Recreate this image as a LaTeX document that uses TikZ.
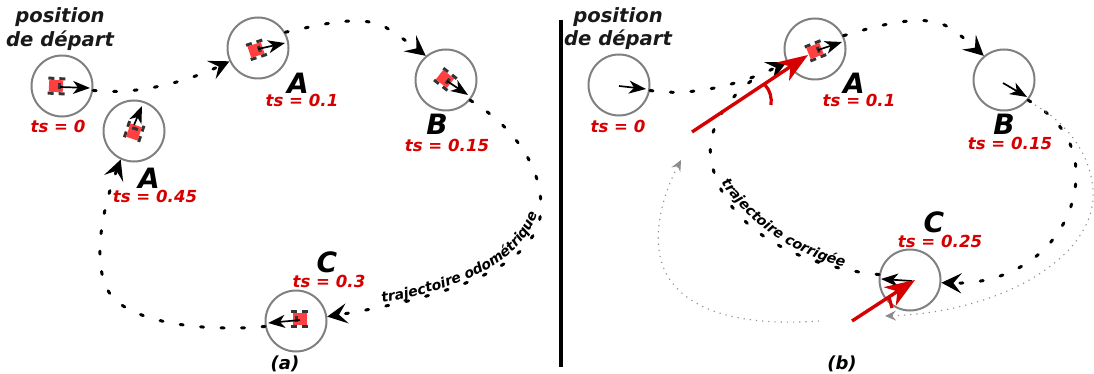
\documentclass[tikz,border=0pt]{standalone}
\usepackage{fontspec}
\setmainfont{DejaVu Sans}
\usetikzlibrary{arrows.meta,decorations.text}
\definecolor{redc}{RGB}{214,0,0}
\tikzset{
  x=1pt,y=-1pt,
  every node/.style={font=\bfseries\itshape},
  ring/.style={circle,draw=black!50,line width=2pt,minimum size=61pt,inner sep=0pt},
  titletext/.style={font=\fontsize{19.6}{22}\selectfont\bfseries\itshape,text=black!90,inner sep=0pt},
  letter/.style={font=\fontsize{28}{30}\selectfont\bfseries\itshape,inner sep=0pt},
  stamp/.style={font=\fontsize{16.6}{19}\selectfont\bfseries\itshape,text=redc,inner sep=0pt},
  figcap/.style={font=\fontsize{18}{20}\selectfont\bfseries\itshape,inner sep=0pt},
  dotline/.style={line width=3pt,line cap=round,dash pattern=on 3pt off 17.5pt,-{Stealth[length=20pt,width=20pt,inset=8pt,line cap=butt]}},
  greyline/.style={line width=1.1pt,black!45,dash pattern=on 1.2pt off 5pt,-{Stealth[length=11pt,width=10pt,inset=4pt]}},
  headbig/.style={line width=1.7pt,-{Stealth[length=17pt,width=13pt,inset=5pt]}},
  redarrow/.style={line width=3.4pt,redc,-{Stealth[length=30pt,width=22pt,inset=9pt]}},
  redarc/.style={line width=3.2pt,redc},
  curvetext/.style={decorate,decoration={text along path,raise=2pt,text align=center,
     text={|\fontsize{14}{16}\selectfont\bfseries\itshape|#1}}},
  robot/.pic={
    \fill[black!80] (-8,-9) rectangle (-2,-6);
    \fill[black!80] (3,-9) rectangle (9,-6);
    \fill[black!80] (-8,6) rectangle (-2,9);
    \fill[black!80] (3,6) rectangle (9,9);
    \fill[red!75!white] (-7,-6) rectangle (7,6);
    \fill[black!80] (2,-3) rectangle (5,3);
  }
}
\begin{document}
\begin{tikzpicture}
\useasboundingbox (0,0) rectangle (1094,374);

% ---------- panel (a)
\node[ring] (s1) at (62,86) {};
\node[ring] (d1) at (134,131) {};
\node[ring] (a1) at (258,48) {};
\node[ring] (b1) at (446,80) {};
\node[ring] (c1) at (296,321) {};
\pic[rotate=-3] at (56,86) {robot};
\pic[rotate=72] at (134,132) {robot};
\pic[rotate=18] at (256,50) {robot};
\pic[rotate=-38] at (445,79) {robot};
\pic[rotate=180] at (300,319) {robot};
\coordinate (s1h) at (60,87); \coordinate (s1t) at (90,88);
\coordinate (d1h) at (134,125); \coordinate (d1t) at (142,106);
\coordinate (a1h) at (258,49); \coordinate (a1t) at (285,43);
\coordinate (b1h) at (447,81); \coordinate (b1t) at (468,95);
\coordinate (c1h) at (300,320); \coordinate (c1t) at (268,323);
\draw[headbig] (s1h) -- (s1t);
\draw[headbig] (d1h) -- (d1t);
\draw[headbig] (a1h) -- (a1t);
\draw[headbig] (b1h) -- (b1t);
\draw[headbig] (c1h) -- (c1t);

\draw[dotline] (s1.-8) .. controls (130,95) and (180,85) .. (a1.205);
\draw[dotline] (a1.30) .. controls (320,25) and (365,12) .. (390,30) .. controls (402,38) and (412,45) .. (b1.130);
\draw[dotline] (b1.-40) .. controls (500,118) and (540,155) .. (541,205) .. controls (543,255) and (480,292) .. (c1.8);
\draw[dotline] (c1.190) .. controls (230,330) and (150,330) .. (115,300) .. controls (90,275) and (100,215) .. (d1.245);

\path[curvetext={trajectoire  odométrique}] (376,306) .. controls (450,293) and (525,270) .. (541,208);

\node[titletext] (p1a) at (60,17) {position};
\node[titletext] (p1b) at (60,41) {de départ};
\node[stamp] (t1) at (58,126) {ts = 0};
\node[letter] (l1) at (149,178) {A};
\node[stamp] (t2) at (155,196) {ts = 0.45};
\node[letter] (l2) at (298,83) {A};
\node[stamp] (t3) at (302,100) {ts = 0.1};
\node[letter] (l3) at (437,124) {B};
\node[stamp] (t4) at (447,145) {ts = 0.15};
\node[letter] (l4) at (327,262) {C};
\node[stamp] (t5) at (329,281) {ts = 0.3};
\node[figcap] (ca) at (285,364) {(a)};

% ---------- separator
\coordinate (v1) at (561,20); \coordinate (v2) at (561,367);
\draw[line width=4pt] (v1) -- (v2);

% ---------- panel (b)
\node[ring] (s2) at (619,85) {};
\node[ring] (a2) at (815,49) {};
\node[ring] (b2) at (1004,80) {};
\node[ring] (c2) at (910,280) {};
\pic[rotate=22] at (815,51) {robot};
\coordinate (s2h) at (619,86); \coordinate (s2t) at (646,89);
\coordinate (a2h) at (818,50); \coordinate (a2t) at (842,42);
\coordinate (b2h) at (1003,83); \coordinate (b2t) at (1027,97);
\coordinate (c2h) at (912,281); \coordinate (c2t) at (881,279);
\draw[headbig] (s2h) -- (s2t);
\draw[headbig] (a2h) -- (a2t);
\draw[headbig] (b2h) -- (b2t);
\draw[headbig] (c2h) -- (c2t);

\draw[dotline] (s2.-10) .. controls (690,97) and (740,85) .. (a2.205);
\draw[dotline] (a2.25) .. controls (880,25) and (925,12) .. (950,28) .. controls (962,36) and (972,45) .. (b2.130);
\draw[dotline] (b2.-40) .. controls (1060,118) and (1078,145) .. (1076,180) .. controls (1072,240) and (1020,285) .. (c2.-5);
\draw[line width=3pt,line cap=round,dash pattern=on 3pt off 17.5pt] (c2.170) .. controls (810,268) and (725,235) .. (711,160) .. controls (705,125) and (735,88) .. (765,72);

\path[curvetext={trajectoire corrigée}] (717,180) .. controls (745,225) and (795,258) .. (848,270);

\coordinate (g1) at (1035,105); \coordinate (g2) at (885,316); \coordinate (g3) at (819,321); \coordinate (g4) at (681,160);
\draw[greyline] (g1) .. controls (1070,125) and (1095,160) .. (1093,200) .. controls (1088,260) and (1000,312) .. (g2);
\draw[greyline] (g3) .. controls (750,326) and (690,315) .. (667,275) .. controls (650,245) and (660,200) .. (g4);

\coordinate (r1) at (692,132); \coordinate (r2) at (808,55);
\coordinate (r3) at (852,321); \coordinate (r4) at (915,280);
\draw[redarrow] (r1) -- (r2);
\draw[redarrow] (r3) -- (r4);
\coordinate (ra) at (771,105); \coordinate (rb) at (765,85);
\draw[redarc] (ra) .. controls (772,98) and (770,90) .. (rb);
\coordinate (rc) at (892,308); \coordinate (rd) at (889,297);
\draw[redarc] (rc) -- (rd);

\node[titletext] (p2a) at (618,17) {position};
\node[titletext] (p2b) at (618,40) {de départ};
\node[stamp] (t6) at (618,126) {ts = 0};
\node[letter] (l5) at (854,83) {A};
\node[stamp] (t7) at (859,100) {ts = 0.1};
\node[letter] (l6) at (1004,124) {B};
\node[stamp] (t8) at (1010,143) {ts = 0.15};
\node[letter] (l7) at (934,222) {C};
\node[stamp] (t9) at (940,241) {ts = 0.25};
\node[figcap] (cb) at (842,364) {(b)};
\end{tikzpicture}
\end{document}
